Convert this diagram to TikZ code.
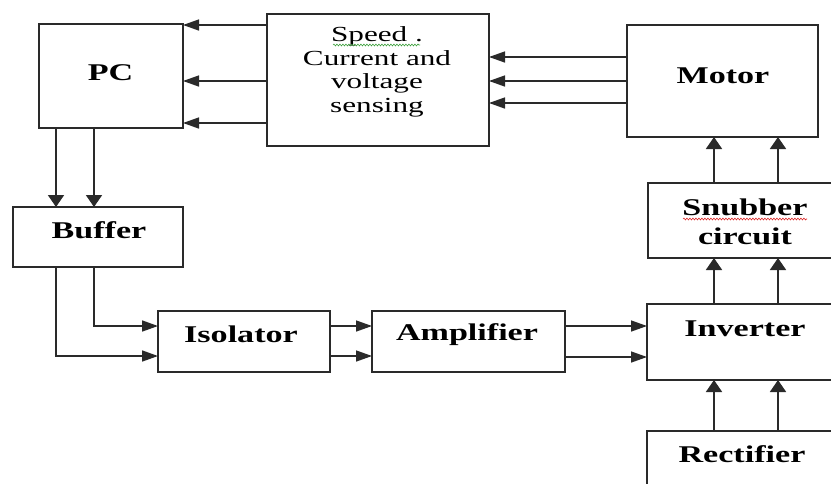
\documentclass[tikz,border=0pt]{standalone}
\usepackage{fontspec}
\setmainfont{Liberation Serif}
\newfontfamily\widebf[FakeStretch=1.42]{Liberation Serif}
\newfontfamily\widerm[FakeStretch=1.45]{Liberation Serif}
\usetikzlibrary{arrows.meta,decorations.pathmorphing}
\definecolor{ink}{HTML}{2A2A2A}
\tikzset{
  box/.style={draw=ink, line width=1.4pt, anchor=north west, inner sep=0pt, outer sep=0pt},
  lbl/.style={anchor=base, inner sep=0pt, font=\widebf\bfseries\fontsize{24}{27}\selectfont, text=black},
  senselbl/.style={anchor=base, inner sep=0pt, align=center, font=\widerm\fontsize{21.5}{23.5}\selectfont, text=black},
  arrh/.style={draw=ink, line width=1.4pt, -{Triangle[length=16pt,width=11pt]}},
  arrv/.style={draw=ink, line width=1.8pt, -{Triangle[length=12pt,width=16pt]}},
  elbow/.style={draw=ink, line width=1.6pt, -{Triangle[length=16pt,width=11pt]}},
  squig/.style={line width=0.6pt, decorate, decoration={snake, amplitude=0.9pt, segment length=3pt}}
}
\begin{document}
\begin{tikzpicture}[x=1pt,y=-1pt]
\useasboundingbox (0,0) rectangle (831,483);
\fill[white] (0,0) rectangle (831,483);
% boxes
\node[box, minimum width=144pt, minimum height=104pt] (pc) at (39,24) {};
\node[box, minimum width=222pt, minimum height=132pt] (sens) at (267,14) {};
\node[box, minimum width=191pt, minimum height=112pt] (motor) at (627,25) {};
\node[box, minimum width=170pt, minimum height=60pt] (buffer) at (13,207) {};
\node[box, minimum width=172pt, minimum height=61pt] (iso) at (158,311) {};
\node[box, minimum width=193pt, minimum height=61pt] (amp) at (372,311) {};
\node[box, minimum width=196pt, minimum height=76pt] (inv) at (647,304) {};
\node[box, minimum width=195pt, minimum height=75pt] (snub) at (648,183) {};
\node[box, minimum width=196pt, minimum height=70pt] (rect) at (647,431) {};
% labels
\node[lbl] (tpc) at (110.5,80) {PC};
\node[senselbl] (tsens) at (377,112) {Speed .\\Current and\\voltage\\sensing};
\node[lbl] (tmotor) at (723,83) {Motor};
\node[lbl] (tbuffer) at (99,238) {Buffer};
\node[lbl] (tiso) at (241,342) {Isolator};
\node[lbl] (tamp) at (467,340) {Amplifier};
\node[lbl] (tinv) at (745,336) {Inverter};
\node[lbl, align=center, font=\widebf\bfseries\fontsize{24}{29}\selectfont] (tsnub) at (745,244) {Snubber\\circuit};
\node[lbl] (trect) at (742,462) {Rectifier};
% spell-check marks
\coordinate (sq1a) at (333,45);
\coordinate (sq1b) at (420,45);
\coordinate (sq2a) at (683,219);
\coordinate (sq2b) at (807,219);
\draw[squig, draw={rgb,255:red,60;green,160;blue,60}] (sq1a) -- (sq1b);
\draw[squig, draw={rgb,255:red,220;green,40;blue,40}] (sq2a) -- (sq2b);
% sensing -> PC
\foreach \yy in {25,81,123} \draw[arrh] (sens.west |- 0,\yy) -- (pc.east |- 0,\yy);
% motor -> sensing
\foreach \yy in {57,81,103} \draw[arrh] (motor.west |- 0,\yy) -- (sens.east |- 0,\yy);
% PC -> buffer
\foreach \xx in {56,94} \draw[arrv] (pc.south -| \xx,0) -- (buffer.north -| \xx,0);
% buffer -> isolator
\draw[elbow] (buffer.south -| 94,0) |- (iso.west |- 0,326);
\draw[elbow] (buffer.south -| 56,0) |- (iso.west |- 0,356);
% isolator -> amplifier
\foreach \yy in {326,356} \draw[arrh] (iso.east |- 0,\yy) -- (amp.west |- 0,\yy);
% amplifier -> inverter
\foreach \yy in {326,357} \draw[arrh] (amp.east |- 0,\yy) -- (inv.west |- 0,\yy);
% inverter -> snubber, snubber -> motor, rectifier -> inverter
\foreach \xx in {714,778} {
  \draw[arrv] (inv.north -| \xx,0) -- (snub.south -| \xx,0);
  \draw[arrv] (snub.north -| \xx,0) -- (motor.south -| \xx,0);
  \draw[arrv] (rect.north -| \xx,0) -- (inv.south -| \xx,0);
}
\end{tikzpicture}
\end{document}
